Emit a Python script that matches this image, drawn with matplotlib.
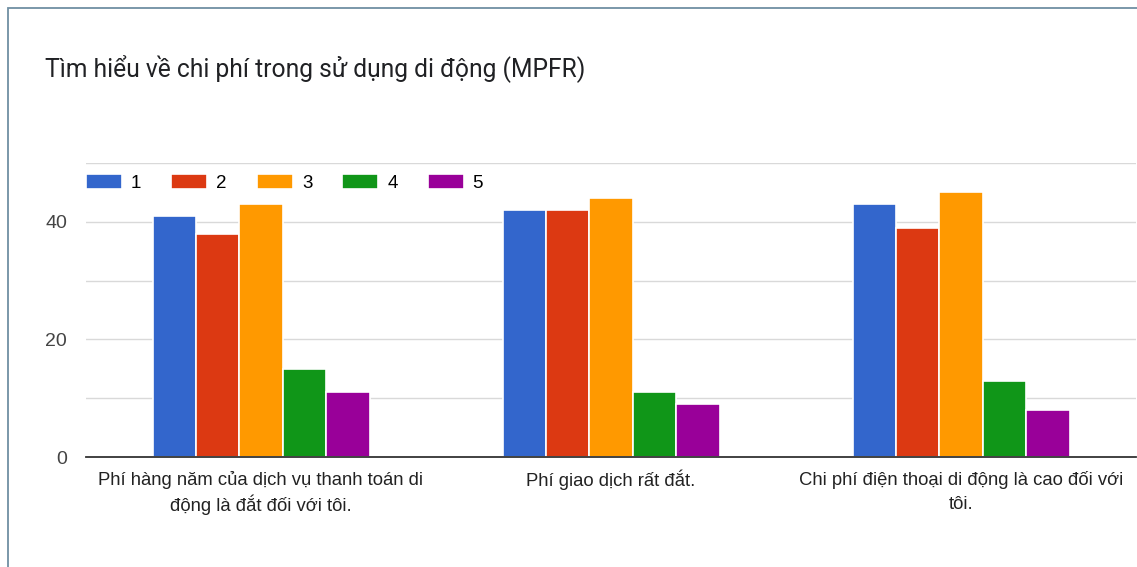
import matplotlib.pyplot as plt
import numpy as np
from matplotlib.patches import Rectangle

plt.rcParams['font.family'] = ['Liberation Sans', 'DejaVu Sans']

# Nhóm câu hỏi và số người chọn từng mức 1-5
cau_hoi = [
    "Phí hàng năm của dịch vụ thanh toán di\nđộng là đắt đối với tôi.",
    "Phí giao dịch rất đắt.",
    "Chi phí điện thoại di động là cao đối với\ntôi.",
]
muc = ["1", "2", "3", "4", "5"]
muc_1 = [41, 42, 43]
muc_2 = [38, 42, 39]
muc_3 = [43, 44, 45]
muc_4 = [15, 11, 13]
muc_5 = [11, 9, 8]
mau = ["#3366cc", "#dc3912", "#ff9900", "#109618", "#990099"]

fig = plt.figure(figsize=(11.37, 5.67), dpi=100)
# khung viền của thẻ
fig.patches.append(Rectangle((8 / 1137, -0.1), 1.2, (567 - 8) / 567 + 0.1,
                             transform=fig.transFigure, fill=False,
                             edgecolor="#6f8fa3", linewidth=1.3))

ax = fig.add_axes([86 / 1137, 1 - 457 / 567, 1050 / 1137, (457 - 163) / 567])

x = np.arange(len(cau_hoi))
w = 0.124
chuoi = [muc_1, muc_2, muc_3, muc_4, muc_5]
for i, y in enumerate(chuoi):
    ax.bar(x + (i - 2) * w, y, width=w, color=mau[i], edgecolor="white",
           linewidth=1.2, label=muc[i], zorder=3)

ax.set_xlim(-0.5, 2.5)
ax.set_ylim(0, 50)
ax.set_yticks([0, 10, 20, 30, 40, 50])
ax.set_yticklabels(["0", "", "20", "", "40", ""])
ax.set_xticks(x)
ax.set_xticklabels([])
# nhãn trục x vẽ từng dòng để khoảng cách dòng đều nhau
for xi, nhan in zip(x, cau_hoi):
    for j, dong in enumerate(nhan.split("\n")):
        ax.annotate(dong, (xi, 0), xycoords=("data", "axes fraction"),
                    xytext=(0, -16.5 - j * 25 * 0.72), textcoords="offset points",
                    ha="center", va="center", fontsize=13.3, color="#222222")
ax.tick_params(length=0, axis="y", labelsize=14, labelcolor="#444444", pad=13.5)
ax.tick_params(length=0, axis="x")
ax.grid(axis="y", color="#d9d9d9", linewidth=1, zorder=0)
for s in ["top", "right", "left"]:
    ax.spines[s].set_visible(False)
ax.spines["bottom"].set_color("#333333")
ax.spines["bottom"].set_linewidth(1.3)
ax.spines["bottom"].set_zorder(4)

ax.legend(loc="center left", bbox_to_anchor=(0, 0.932), ncol=5, frameon=False,
          fontsize=13.5, handlelength=1.92, handleheight=0.9, handletextpad=0.48,
          columnspacing=1.6, borderaxespad=0, borderpad=0)

fig.text(45 / 1137, 1 - 68 / 567, "Tìm hiểu về chi phí trong sử dụng di động (MPFR)",
         fontsize=17.7, color="#202124", va="center", ha="left",
         family=["Roboto", "DejaVu Sans"])

fig.savefig("out.png", dpi=100)
